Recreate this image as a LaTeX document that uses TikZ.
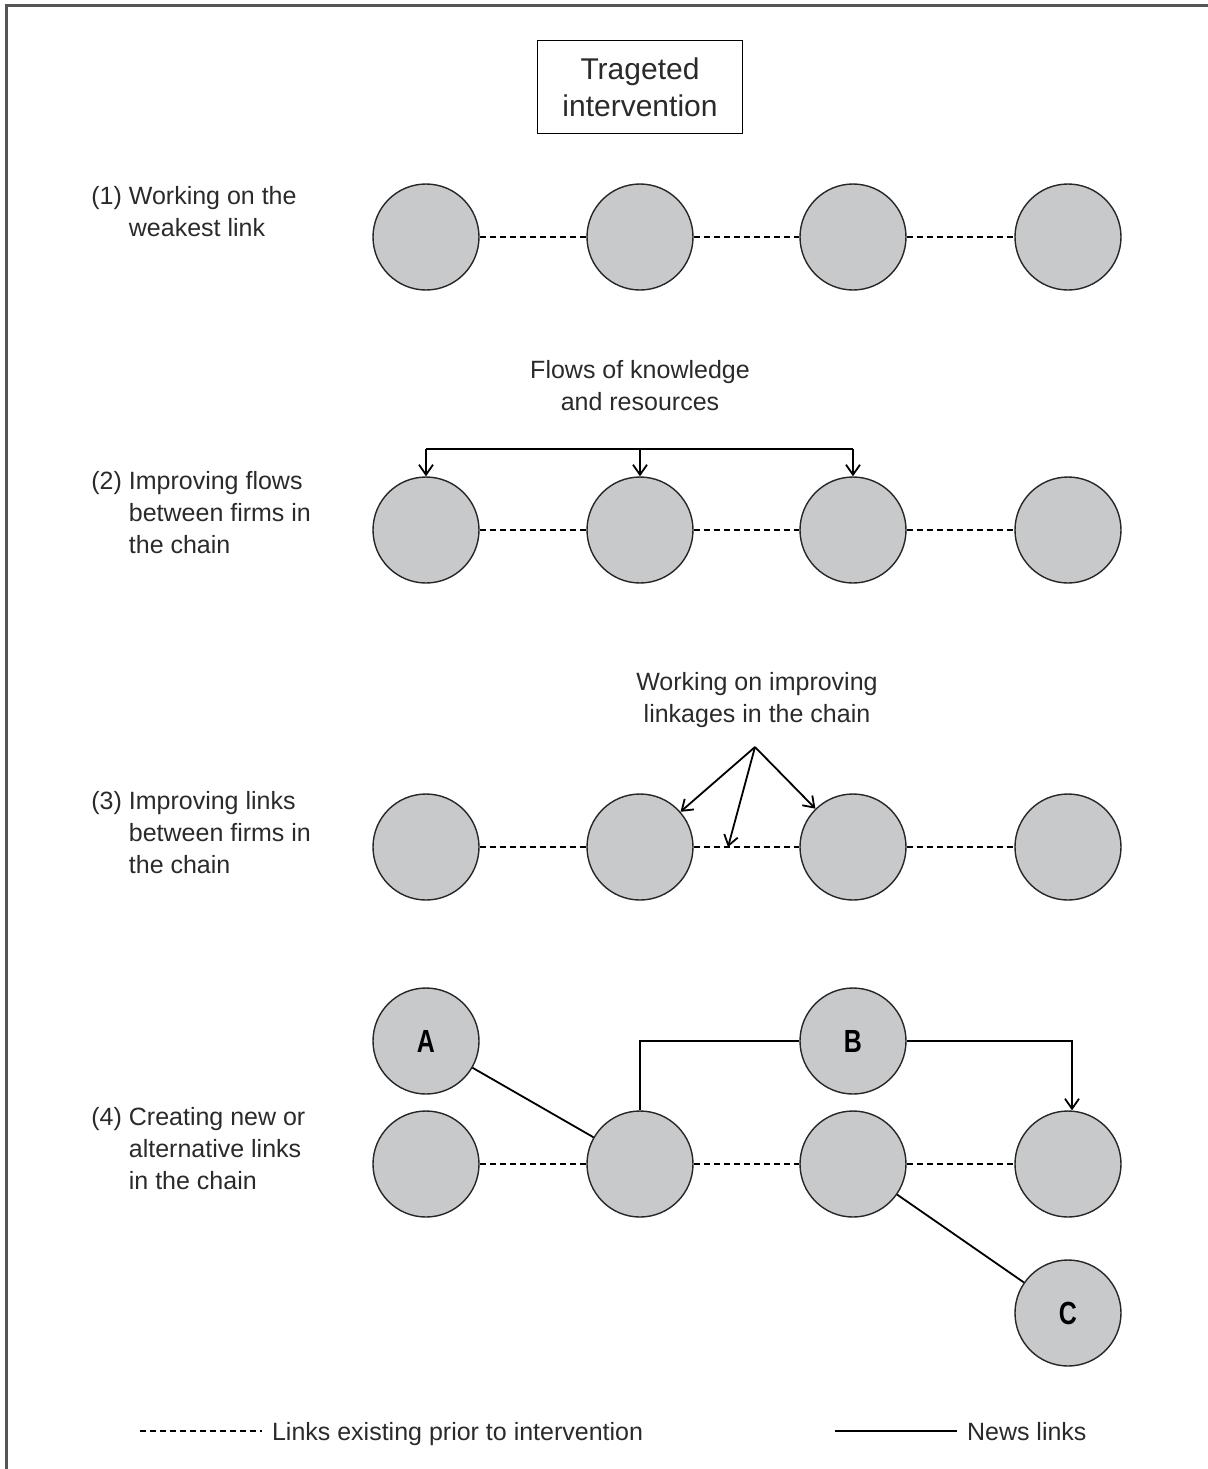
\documentclass[tikz,border=0pt]{standalone}
\usepackage{fontspec}
\setmainfont{Liberation Sans}
\newfontfamily\narrowbold{Liberation Sans}[FakeStretch=0.78]
\usetikzlibrary{arrows.meta}
\definecolor{firmgray}{HTML}{C8C9CB}
\definecolor{framegray}{HTML}{555555}
\definecolor{inkgray}{HTML}{2A2A2A}
\tikzset{
  firm/.style={circle,draw=black!85,line width=0.7pt,fill=firmgray,minimum size=53pt,inner sep=0pt,
    font=\narrowbold\bfseries\fontsize{16}{16}\selectfont},
  oldlink/.style={line width=0.9pt,dash pattern=on 3pt off 2pt},
  newlink/.style={line width=0.9pt},
  flow/.style={newlink,-{Straight Barb[length=5pt,width=7pt]}},
  lbl/.style={text=inkgray,font=\fontsize{12.5}{16}\selectfont},
  rowlbl/.style={lbl,anchor=west,align=left,inner sep=0pt},
}

\begin{document}
\begin{tikzpicture}[x=0.5pt,y=-0.5pt]
\useasboundingbox (0,0) rectangle (1208,1469);
\draw[framegray,line width=1.5pt] (1208,5) -- (6,5) -- (6,1469);
\node[draw,line width=0.6pt,minimum width=102.5pt,minimum height=46.5pt,align=center,text=inkgray,
      font=\fontsize{15}{18.5}\selectfont] (title) at (640,87) {Trageted\\intervention};
% the four chains
\foreach \r/\y in {1/237,2/530,3/847,4/1164}{
  \foreach \c/\x in {1/426,2/640,3/853,4/1068}
    \node[firm] (r\r-\c) at (\x,\y) {};
  \draw[oldlink] (r\r-1) -- (r\r-2) (r\r-2) -- (r\r-3) (r\r-3) -- (r\r-4);
}
\node[rowlbl] (l1) at (91,212) {(1) Working on the\\\hphantom{(1) }weakest link};
\node[rowlbl] (l2) at (91,513) {(2) Improving flows\\\hphantom{(2) }between firms in\\\hphantom{(2) }the chain};
\node[rowlbl] (l3) at (91,833) {(3) Improving links\\\hphantom{(3) }between firms in\\\hphantom{(3) }the chain};
\node[rowlbl] (l4) at (91,1149) {(4) Creating new or\\\hphantom{(4) }alternative links\\\hphantom{(4) }in the chain};
% (2)
\node[lbl,align=center] (flows) at (640,386) {Flows of knowledge\\and resources};
\coordinate (fbar) at (640,449);
\draw[newlink] (fbar -| r2-1) -- (fbar -| r2-3);
\draw[flow] (fbar -| r2-1) -- (r2-1.north);
\draw[flow] (fbar -| r2-2) -- (r2-2.north);
\draw[flow] (fbar -| r2-3) -- (r2-3.north);
% (3)
\node[lbl,align=center] (linkage) at (757,700) {Working on improving\\linkages in the chain};
\coordinate (apex) at (755,747);
\coordinate (gap) at (728,847);
\draw[flow] (apex) -- (r3-2);
\draw[flow] (apex) -- (gap);
\draw[flow] (apex) -- (r3-3);
% (4)
\node[firm] (A) at (426,1041) {A};
\node[firm] (B) at (853,1041) {B};
\node[firm] (C) at (1068,1313) {C};
\draw[newlink] (A) -- (r4-2);
\draw[newlink] (r4-2.north) |- (B.west);
\draw[flow] (B.east) -| ([xshift=2pt]r4-4.north);
\draw[newlink] (r4-3) -- (C);
% key
\coordinate (k1) at (140,1431);
\coordinate (k2) at (262,1431);
\coordinate (k3) at (835,1431);
\coordinate (k4) at (957,1431);
\draw[oldlink] (k1) -- (k2);
\node[lbl,anchor=base west] (oldkey) at (265,1440) {Links existing prior to intervention};
\draw[newlink] (k3) -- (k4);
\node[lbl,anchor=base west] (newkey) at (960,1440) {News links};
\end{tikzpicture}
\end{document}
